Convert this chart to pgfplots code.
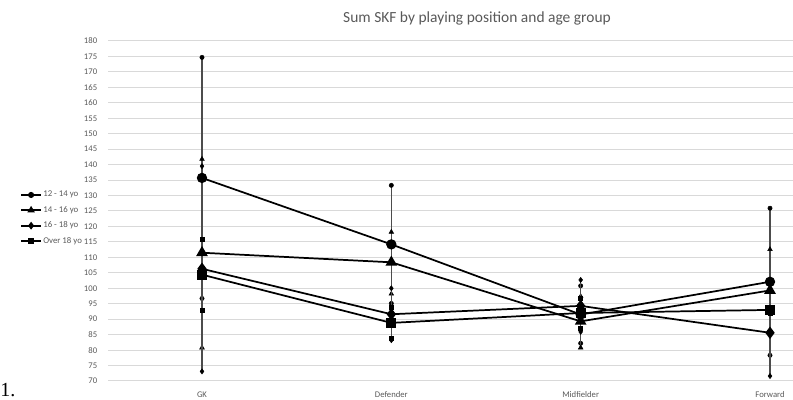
\documentclass[border=0pt]{standalone}
\usepackage{fontspec}
\setmainfont{Carlito}
\newfontfamily\serifnum{Liberation Serif}
\usepackage{pgfplots}
\pgfplotsset{compat=1.18}
\usepackage{pgfplotstable}
\definecolor{txtgray}{HTML}{595959}
\definecolor{gridgray}{HTML}{D9D9D9}

% x: 0=GK, 1=Defender, 2=Midfielder, 3=Forward
\pgfplotstableread{
x y e
0 135.7 39.0
1 114.2 19.1
2 91.5 9.3
3 102.1 23.8
}\dataA % 12 - 14 yo
\pgfplotstableread{
x y e
0 111.5 30.5
1 108.4 10.0
2 89.3 8.3
3 99.3 13.5
}\dataB % 14 - 16 yo
\pgfplotstableread{
x y e
0 106.3 33.2
1 91.6 8.4
2 94.3 8.4
3 85.6 14.0
}\dataC % 16 - 18 yo
\pgfplotstableread{
x y e
0 104.4 11.6
1 88.8 4.9
2 92.0 4.8
3 93.0 1.0
}\dataD % Over 18 yo

\begin{document}
\begin{tikzpicture}
\path[use as bounding box] (0pt,0pt) rectangle (594.75pt,300pt);
\begin{axis}[
  at={(81pt,14.25pt)}, anchor=south west,
  scale only axis, width=513.75pt, height=255pt,
  xmin=-0.4965, xmax=3.1215, ymin=70, ymax=180,
  axis line style={draw=none},
  major tick length=0pt,
  ytick={70,75,...,180},
  ymajorgrids, grid style={gridgray, line width=0.75pt},
  xtick={0,1,2,3}, xticklabels={GK,Defender,Midfielder,Forward},
  tick label style={font=\fontsize{6.5}{7.5}\selectfont, text=txtgray},
  /pgf/number format/assume math mode=true,
  yticklabel style={xshift=-4.6pt},
  xticklabel style={yshift=-4.5pt},
  clip=false,
  legend image code/.code={\draw[mark repeat=2,mark phase=2,#1] plot coordinates {(0pt,0pt) (7.5pt,0pt) (15pt,0pt)};},
  legend style={at={(rel axis cs:-0.1285,0.479)}, anchor=west, draw=none, fill=none,
    inner sep=0pt, font=\fontsize{6.6}{7.5}\selectfont, text=txtgray, row sep=3.6pt,
    nodes={inner sep=1pt}},
  legend cell align=left,
]
\addplot[forget plot, black, line width=1.3pt, mark=*, mark size=3.2pt, mark options={solid, fill=black},
  error bars/.cd, y dir=both, y explicit, error bar style={draw=black!70, line width=0.8pt},
  error mark=*, error mark options={mark size=1.6pt, fill=black, draw=black}]
  table[x=x, y=y, y error=e] {\dataA};
% lower ends of the 14 - 16 yo error bars (upright triangles)
\addplot[forget plot, draw=none, mark=none,
  error bars/.cd, y dir=minus, y explicit, error bar style={draw=black!70, line width=0.8pt},
  error mark=triangle*, error mark options={rotate=90, mark size=2pt, fill=black, draw=black}]
  table[x=x, y=y, y error=e] {\dataB};
\addplot[forget plot, black, line width=1.3pt, mark=triangle*, mark size=3.8pt, mark options={solid, fill=black},
  error bars/.cd, y dir=plus, y explicit, error bar style={draw=black!70, line width=0.8pt},
  error mark=triangle*, error mark options={rotate=-90, mark size=2pt, fill=black, draw=black}]
  table[x=x, y=y, y error=e] {\dataB};
\addplot[forget plot, black, line width=1.3pt, mark=diamond*, mark size=3.6pt, mark options={solid, fill=black},
  error bars/.cd, y dir=both, y explicit, error bar style={draw=black!70, line width=0.8pt},
  error mark=diamond*, error mark options={rotate=-90, mark size=1.9pt, fill=black, draw=black}]
  table[x=x, y=y, y error=e] {\dataC};
\addplot[forget plot, black, line width=1.3pt, mark=square*, mark size=3.2pt, mark options={solid, fill=black},
  error bars/.cd, y dir=both, y explicit, error bar style={draw=black!70, line width=0.8pt},
  error mark=square*, error mark options={mark size=1.5pt, fill=black, draw=black}]
  table[x=x, y=y, y error=e] {\dataD};
\addlegendimage{black, line width=1.3pt, mark=*, mark size=1.6pt, mark options={solid, fill=black}}
\addlegendentry{12 - 14 yo}
\addlegendimage{black, line width=1.3pt, mark=triangle*, mark size=2pt, mark options={solid, fill=black}}
\addlegendentry{14 - 16 yo}
\addlegendimage{black, line width=1.3pt, mark=diamond*, mark size=1.9pt, mark options={solid, fill=black}}
\addlegendentry{16 - 18 yo}
\addlegendimage{black, line width=1.3pt, mark=square*, mark size=1.5pt, mark options={solid, fill=black}}
\addlegendentry{Over 18 yo}
\end{axis}
\node[font=\fontsize{11.6}{13}\selectfont, text=txtgray] at (357.75pt,286.5pt) {Sum SKF by playing position and age group};
\node[font=\serifnum\fontsize{15}{17}\selectfont, anchor=base west, inner sep=0pt] at (0pt,2.5pt) {1.};
\end{tikzpicture}
\end{document}
